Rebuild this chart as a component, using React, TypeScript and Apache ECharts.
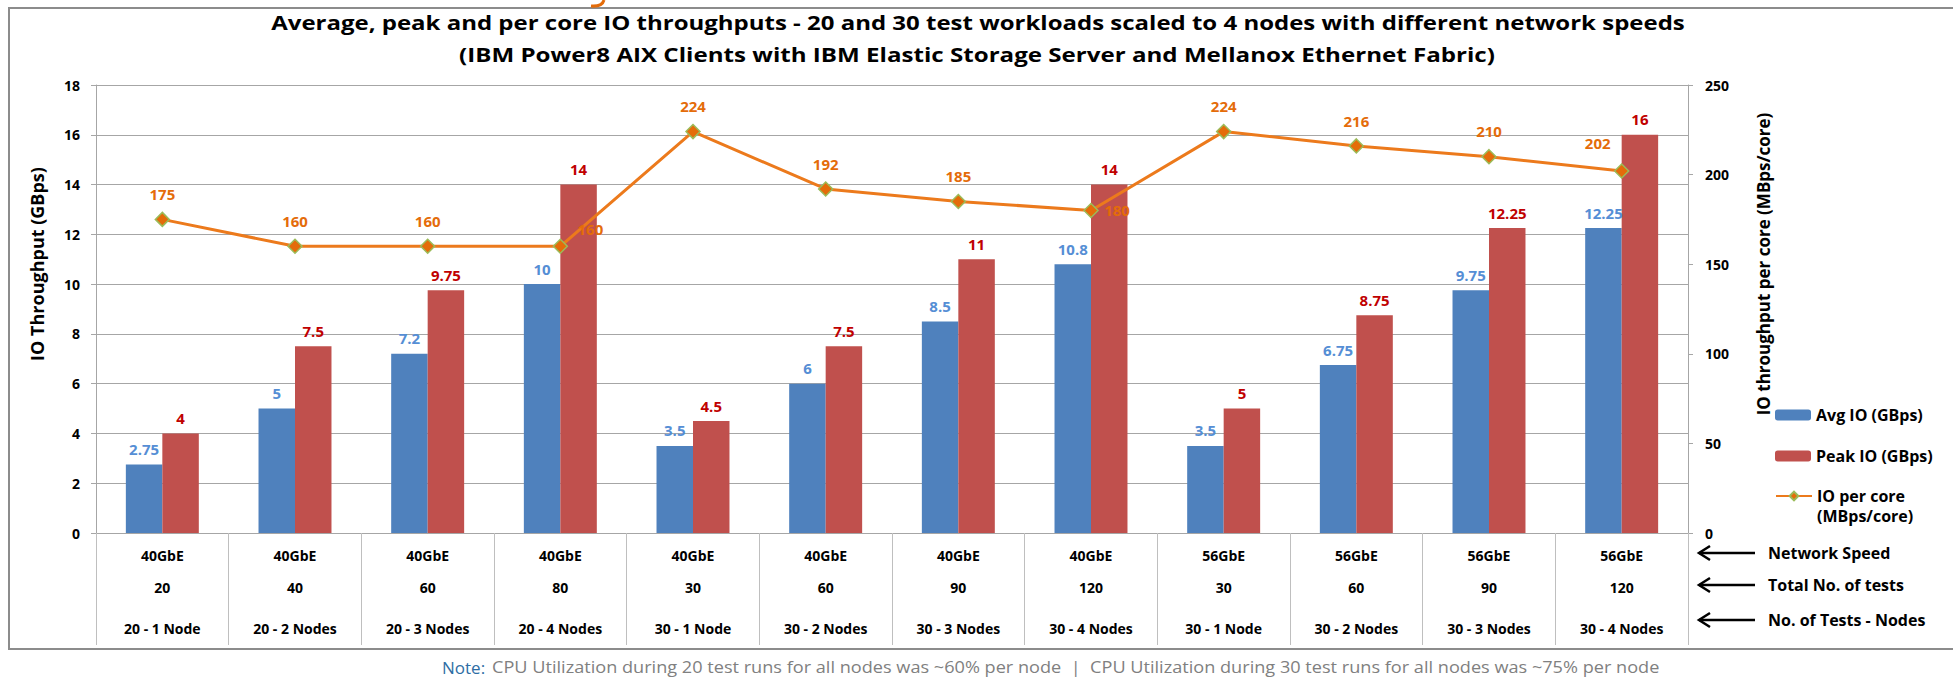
import React, { useEffect, useRef } from 'react';
import * as echarts from 'echarts';

const networkSpeed = ['40GbE', '40GbE', '40GbE', '40GbE', '40GbE', '40GbE', '40GbE', '40GbE', '56GbE', '56GbE', '56GbE', '56GbE'];
const totalTests = ['20', '40', '60', '80', '30', '60', '90', '120', '30', '60', '90', '120'];
const testsNodes = ['20 - 1 Node', '20 - 2 Nodes', '20 - 3 Nodes', '20 - 4 Nodes', '30 - 1 Node', '30 - 2 Nodes', '30 - 3 Nodes', '30 - 4 Nodes', '30 - 1 Node', '30 - 2 Nodes', '30 - 3 Nodes', '30 - 4 Nodes'];
const avgIO = [2.75, 5, 7.2, 10, 3.5, 6, 8.5, 10.8, 3.5, 6.75, 9.75, 12.25];
const peakIO = [4, 7.5, 9.75, 14, 4.5, 7.5, 11, 14, 5, 8.75, 12.25, 16];
const ioPerCore = [175, 160, 160, 160, 224, 192, 185, 180, 224, 216, 210, 202];

const rowLabels = ['Network Speed', 'Total No. of tests', 'No. of Tests - Nodes'];
const titleText = 'Average, peak and per core IO throughputs - 20 and 30 test workloads scaled to 4 nodes with different network speeds';
const subtitleText = '(IBM Power8 AIX Clients with IBM Elastic Storage Server and Mellanox Ethernet Fabric)';
const noteLead = 'Note:';
const noteText = 'CPU Utilization during 20 test runs for all nodes was ~60% per node  |  CPU Utilization during 30 test runs for all nodes was ~75% per node';

const FONT = '"Open Sans", sans-serif';
const categories = testsNodes.map((n, i) => `${networkSpeed[i]}|${totalTests[i]}|${n}|${i}`);

export default function App() {
  const ref = useRef<HTMLDivElement>(null);
  useEffect(() => {
    if (!ref.current) return;
    const chart = echarts.init(ref.current, null, { renderer: 'svg' });

    // label nudges (styling only) for the line labels that were moved in the original
    const lineLabelShift: Record<number, [number, number]> = { 3: [30, 8], 7: [26, 25], 11: [-24, -3] };

    const arrowYs = [553, 585, 620];
    const graphics: any[] = [
      { type: 'rect', silent: true, shape: { x: 9, y: 8, width: 2000, height: 641 }, style: { fill: 'none', stroke: '#8c8c8c', lineWidth: 2 } },
      { type: 'bezierCurve', silent: true, shape: { x1: 604, y1: 0, cpx1: 602, cpy1: 7, x2: 591, y2: 6 }, style: { stroke: '#e46c0a', lineWidth: 3, fill: 'none' } },
      { type: 'text', x: 978, y: 22, scaleX: 1.2, style: { text: titleText, fontFamily: FONT, fontSize: 20, fontWeight: 'bold', fill: '#000', align: 'center', verticalAlign: 'middle' } },
      { type: 'text', x: 977, y: 55, scaleX: 1.27, style: { text: subtitleText, fontFamily: FONT, fontSize: 19, fontWeight: 'bold', fill: '#000', align: 'center', verticalAlign: 'middle' } },
      { type: 'text', x: 37, y: 264, rotation: Math.PI / 2, style: { text: 'IO Throughput (GBps)', fontFamily: FONT, fontSize: 18, fontWeight: 'bold', fill: '#000', align: 'center', verticalAlign: 'middle' } },
      { type: 'text', x: 1763, y: 264, rotation: Math.PI / 2, style: { text: 'IO throughput per core (MBps/core)', fontFamily: FONT, fontSize: 17, fontWeight: 'bold', fill: '#000', align: 'center', verticalAlign: 'middle' } },
      { type: 'text', x: 442, y: 667, style: { text: noteLead, fontFamily: FONT, fontSize: 17, fill: '#2e6da4', verticalAlign: 'middle', align: 'left' } },
      { type: 'text', x: 492, y: 667, scaleX: 1.17, style: { text: noteText, fontFamily: FONT, fontSize: 15.5, fill: '#808080', verticalAlign: 'middle', align: 'left' } },
    ];
    arrowYs.forEach((y, i) => {
      graphics.push({ type: 'line', silent: true, shape: { x1: 1699, y1: y, x2: 1755, y2: y }, style: { stroke: '#000', lineWidth: 2.5 } });
      graphics.push({ type: 'polyline', silent: true, shape: { points: [[1710, y - 7], [1699, y], [1710, y + 7]] }, style: { stroke: '#000', lineWidth: 2.5, fill: 'none' } });
      graphics.push({ type: 'text', x: 1768, y, style: { text: rowLabels[i], fontFamily: FONT, fontSize: 16, fontWeight: 'bold', fill: '#000', verticalAlign: 'middle' } });
    });

    const labelBase = { fontFamily: FONT, fontWeight: 'bold', fontSize: 15 };
    const lineData = ioPerCore.map((v, i) => {
      const s = lineLabelShift[i];
      return s ? { value: v, label: { offset: s } } : v;
    });

    chart.setOption({
      animation: false,
      backgroundColor: '#ffffff',
      legend: [
        {
          orient: 'vertical', left: 1775, top: 404.5, padding: 0, itemWidth: 36, itemHeight: 11, itemGap: 20,
          data: ['Avg IO (GBps)', 'Peak IO (GBps)'],
          textStyle: { fontFamily: FONT, fontSize: 16, fontWeight: 'bold', color: '#000', lineHeight: 21 },
        },
        {
          orient: 'vertical', left: 1775, top: 466, padding: 0, itemWidth: 36, itemHeight: 11,
          data: ['IO per core (MBps/core)'],
          formatter: () => ' \nIO per core\n(MBps/core)',
          textStyle: { fontFamily: FONT, fontSize: 16, fontWeight: 'bold', color: '#000', lineHeight: 20 },
        },
      ],
      grid: { left: 96, right: 265, top: 85, bottom: 144, containLabel: false },
      xAxis: {
        type: 'category',
        data: categories,
        axisLine: { show: true, lineStyle: { color: '#a6a6a6', width: 1 } },
        axisTick: { show: true, interval: 0, length: 112, lineStyle: { color: '#bfbfbf' } },
        axisLabel: {
          interval: 0,
          margin: 8,
          formatter: (_v: string, i: number) => `{a|${networkSpeed[i]}}\n{b|${totalTests[i]}}\n{c|${testsNodes[i]}}`,
          rich: {
            a: { fontFamily: FONT, fontSize: 14, fontWeight: 'bold', color: '#000', lineHeight: 28 },
            b: { fontFamily: FONT, fontSize: 14, fontWeight: 'bold', color: '#000', lineHeight: 36 },
            c: { fontFamily: FONT, fontSize: 14, fontWeight: 'bold', color: '#000', lineHeight: 46 },
          },
        },
      },
      yAxis: [
        {
          type: 'value', min: 0, max: 18, interval: 2,
          axisLine: { show: true, lineStyle: { color: '#a6a6a6' } },
          axisTick: { show: true, length: 5, lineStyle: { color: '#a6a6a6' } },
          splitLine: { show: true, lineStyle: { color: '#a6a6a6', width: 1 } },
          axisLabel: { margin: 16, fontFamily: FONT, fontSize: 14, fontWeight: 'bold', color: '#000' },
        },
        {
          type: 'value', min: 0, max: 250, interval: 50, position: 'right',
          axisLine: { show: true, lineStyle: { color: '#a6a6a6' } },
          axisTick: { show: true, length: 5, lineStyle: { color: '#a6a6a6' } },
          splitLine: { show: false },
          axisLabel: { margin: 17, fontFamily: FONT, fontSize: 14, fontWeight: 'bold', color: '#000' },
        },
      ],
      series: [
        {
          name: 'Avg IO (GBps)', type: 'bar', yAxisIndex: 0, data: avgIO,
          barGap: '0%', barCategoryGap: '45%',
          itemStyle: { color: '#4f81bd' },
          label: { show: true, position: 'top', distance: 8, color: '#558ed5', ...labelBase },
        },
        {
          name: 'Peak IO (GBps)', type: 'bar', yAxisIndex: 0, data: peakIO,
          barGap: '0%', barCategoryGap: '45%',
          itemStyle: { color: '#c0504d' },
          label: { show: true, position: 'top', distance: 8, color: '#c00000', ...labelBase },
        },
        {
          name: 'IO per core (MBps/core)', type: 'line', yAxisIndex: 1, data: lineData,
          symbol: 'diamond', symbolSize: 14,
          lineStyle: { color: '#ec7a1c', width: 3 },
          itemStyle: { color: '#e46c0a', borderColor: '#9bbb59', borderWidth: 1.5 },
          label: { show: true, position: 'top', distance: 10, color: '#e46c0a', ...labelBase },
          z: 5,
        },
      ],
      graphic: graphics,
    });
    return () => chart.dispose();
  }, []);
  return <div ref={ref} style={{ position: 'absolute', left: 0, top: 0, width: 1953, height: 677, background: '#fff' }} />;
}
